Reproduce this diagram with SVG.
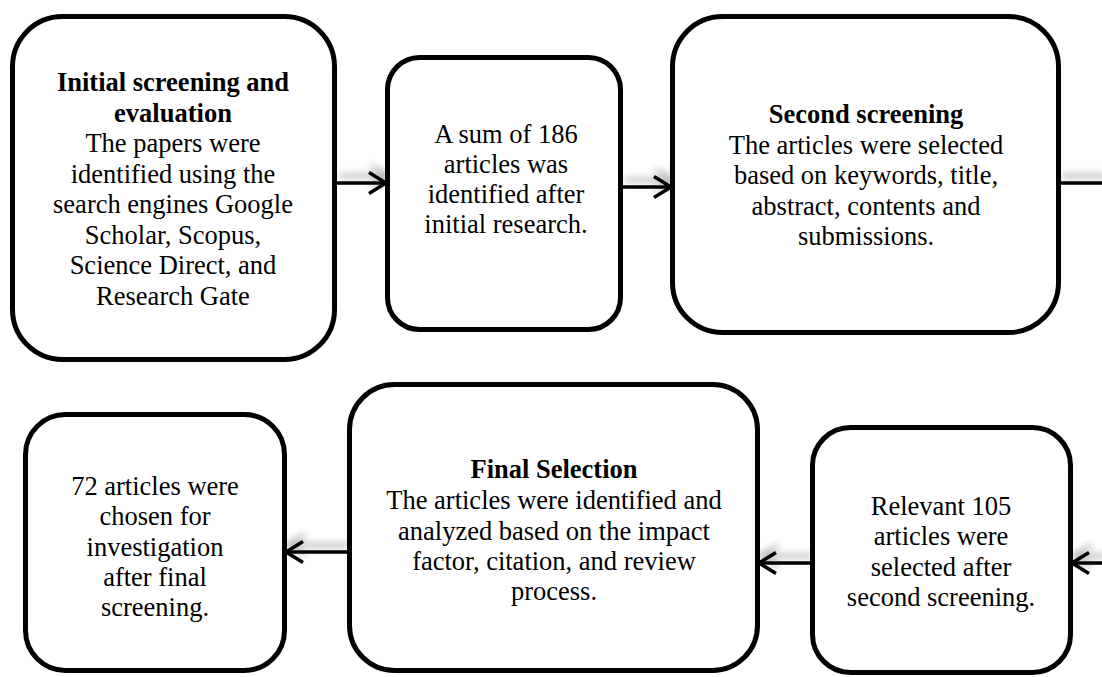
<svg xmlns="http://www.w3.org/2000/svg" width="1102" height="677" viewBox="0 0 1102 677">
  <style>
    .box { fill: #ffffff; stroke: #000000; stroke-width: 5; }
    text { font-family: 'Liberation Serif', 'Tinos', 'Noto Serif', 'FreeSerif', 'Nimbus Roman', 'Nimbus Roman No9 L', 'Times New Roman', Times, 'DejaVu Serif', 'Noto Serif CJK SC', serif; font-size: 26.5px; fill: #000000; text-anchor: middle; }
    .b { font-weight: bold; }
    .conn { fill: none; stroke: #000000; stroke-width: 3.5; }
  </style>
  <defs>
    <marker id="arrow" markerUnits="userSpaceOnUse" markerWidth="24" markerHeight="28" viewBox="-20 -14 24 28" refX="-1" refY="0" orient="auto">
      <path d="M-17,-10.5 L0,0 L-17,10.5" fill="none" stroke="#000000" stroke-width="3.5" stroke-linejoin="miter"/>
    </marker>
    <filter id="shadow" x="-20%" y="-300%" width="140%" height="700%">
      <feGaussianBlur in="SourceAlpha" stdDeviation="3.5" result="blur"/>
      <feOffset in="blur" dx="2" dy="-7" result="off"/>
      <feFlood flood-color="#000000" flood-opacity="0.35"/>
      <feComposite in2="off" operator="in" result="sh"/>
      <feMerge>
        <feMergeNode in="sh"/>
        <feMergeNode in="SourceGraphic"/>
      </feMerge>
    </filter>
  </defs>

  <g id="connectors" filter="url(#shadow)">
    <line class="conn" x1="337" y1="183" x2="385" y2="183" marker-end="url(#arrow)"/>
    <line class="conn" x1="623" y1="187" x2="670" y2="187" marker-end="url(#arrow)"/>
    <line class="conn" x1="1060" y1="183" x2="1104" y2="183"/>
    <line class="conn" x1="1104" y1="563" x2="1073" y2="563" marker-end="url(#arrow)"/>
    <line class="conn" x1="810" y1="563" x2="760" y2="563" marker-end="url(#arrow)"/>
    <line class="conn" x1="348" y1="552" x2="287" y2="552" marker-end="url(#arrow)"/>
  </g>

  <g id="node1">
    <rect class="box" x="12.5" y="16.5" width="322" height="343" rx="50" ry="50"/>
    <text class="b" x="173" y="91">Initial screening and</text>
    <text class="b" x="173" y="121.5">evaluation</text>
    <text x="173" y="152">The papers were</text>
    <text x="173" y="182.5">identified using the</text>
    <text x="173" y="213">search engines Google</text>
    <text x="173" y="243.5">Scholar, Scopus,</text>
    <text x="173" y="274">Science Direct, and</text>
    <text x="173" y="304.5">Research Gate</text>
  </g>

  <g id="node2">
    <rect class="box" x="387.5" y="57.5" width="233" height="272" rx="32" ry="32"/>
    <text x="506" y="143">A sum of 186</text>
    <text x="506" y="173">articles was</text>
    <text x="506" y="203">identified after</text>
    <text x="506" y="233">initial research.</text>
  </g>

  <g id="node3">
    <rect class="box" x="672.5" y="16.5" width="386" height="316" rx="50" ry="50"/>
    <text class="b" x="866" y="123">Second screening</text>
    <text x="866" y="154">The articles were selected</text>
    <text x="866" y="184">based on keywords, title,</text>
    <text x="866" y="215">abstract, contents and</text>
    <text x="866" y="245">submissions.</text>
  </g>

  <g id="node4">
    <rect class="box" x="812.5" y="427.5" width="258" height="245" rx="38" ry="38"/>
    <text x="941" y="515">Relevant 105</text>
    <text x="941" y="545">articles were</text>
    <text x="941" y="576">selected after</text>
    <text x="941" y="606">second screening.</text>
  </g>

  <g id="node5">
    <rect class="box" x="349.5" y="384.5" width="408" height="286" rx="45" ry="45"/>
    <text class="b" x="554" y="478">Final Selection</text>
    <text x="554" y="509">The articles were identified and</text>
    <text x="554" y="540">analyzed based on the impact</text>
    <text x="554" y="570">factor, citation, and review</text>
    <text x="554" y="600">process.</text>
  </g>

  <g id="node6">
    <rect class="box" x="25.5" y="414.5" width="259" height="256" rx="40" ry="40"/>
    <text x="155" y="495">72 articles were</text>
    <text x="155" y="525">chosen for</text>
    <text x="155" y="556">investigation</text>
    <text x="155" y="586">after final</text>
    <text x="155" y="616">screening.</text>
  </g>
</svg>
